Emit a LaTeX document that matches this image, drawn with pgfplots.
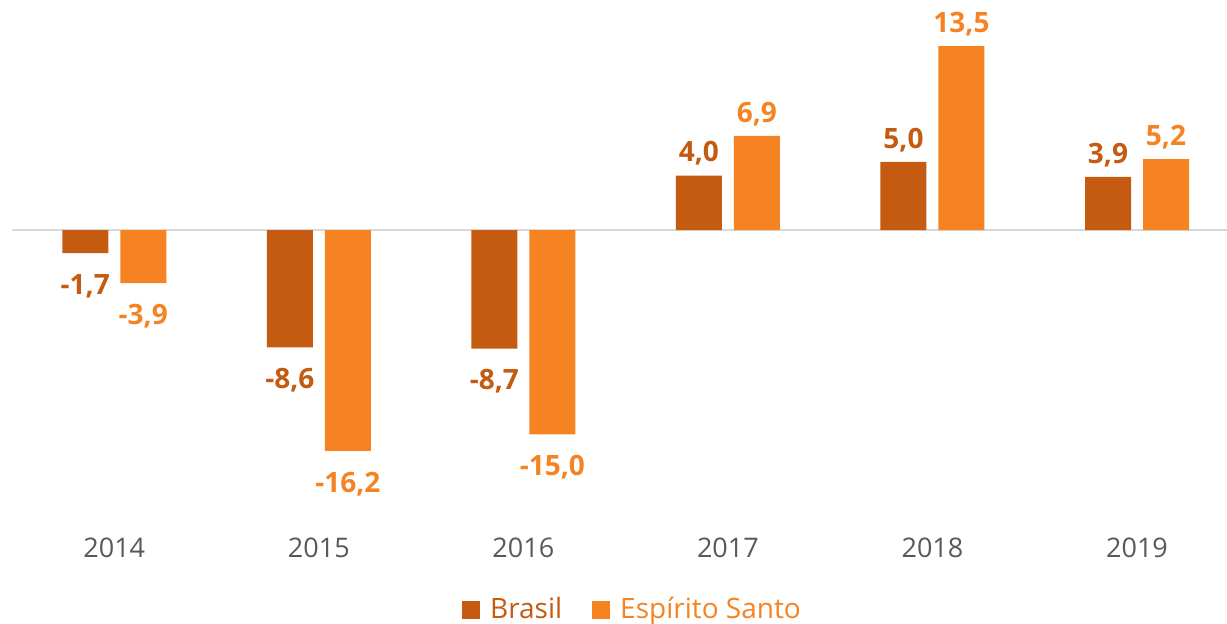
\documentclass[border=0pt]{standalone}
\usepackage{fontspec}
\setmainfont{Open Sans}
\usepackage{pgfplots}
\pgfplotsset{compat=1.18}
\definecolor{brasil}{HTML}{C55A11}
\definecolor{es}{HTML}{F58322}
\definecolor{tickgray}{HTML}{595959}
\begin{document}
\begin{tikzpicture}
\useasboundingbox (-6pt,-49pt) rectangle (607.5pt,262.5pt);
\begin{axis}[
  scale only axis, width=607.5pt, height=262.5pt,
  ybar=6pt, bar width=23pt,
  xmin=-0.5, xmax=5.44, ymin=-21.64, ymax=16.875,
  axis line style={draw=none},
  xtick=data, xticklabels={2014,2015,2016,2017,2018,2019},
  major tick length=0pt,
  xticklabel style={font=\fontsize{13.5}{16}\selectfont, text=tickgray, anchor=base, yshift=-16pt},
  ytick=\empty,
  extra y ticks={0}, extra y tick labels={},
  extra y tick style={grid=major, major grid style={draw=black!15, line width=1pt}},
  nodes near coords,
  visualization depends on={y \as \yval},
  nodes near coords style={font=\fontsize{14}{16}\selectfont\bfseries,
    yshift={ifthenelse(\yval<0,-7,1.5)*1pt},
    /pgf/number format/assume math mode=true,
    /pgf/number format/fixed, /pgf/number format/fixed zerofill,
    /pgf/number format/precision=1, /pgf/number format/use comma},
  legend style={at={(0.5,0)}, anchor=north, xshift=7pt, yshift=-32pt, draw=none, legend columns=2,
    font=\fontsize{14}{16}\selectfont, column sep=0pt,
    /tikz/every odd column/.append style={column sep=3pt},
    /tikz/every even column/.append style={column sep=13pt}},
  legend image code/.code={\fill[#1] (0pt,-4.5pt) rectangle (9pt,4.5pt);},
]
\addplot[fill=brasil, draw=none, nodes near coords style={text=brasil}] coordinates {(0,-1.7) (1,-8.6) (2,-8.7) (3,4.0) (4,5.0) (5,3.9)};
\addlegendentry[text=brasil]{Brasil}
\addplot[fill=es, draw=none, nodes near coords style={text=es}] coordinates {(0,-3.9) (1,-16.2) (2,-15.0) (3,6.9) (4,13.5) (5,5.2)};
\addlegendentry[text=es]{Espírito Santo}
\end{axis}
\end{tikzpicture}
\end{document}
